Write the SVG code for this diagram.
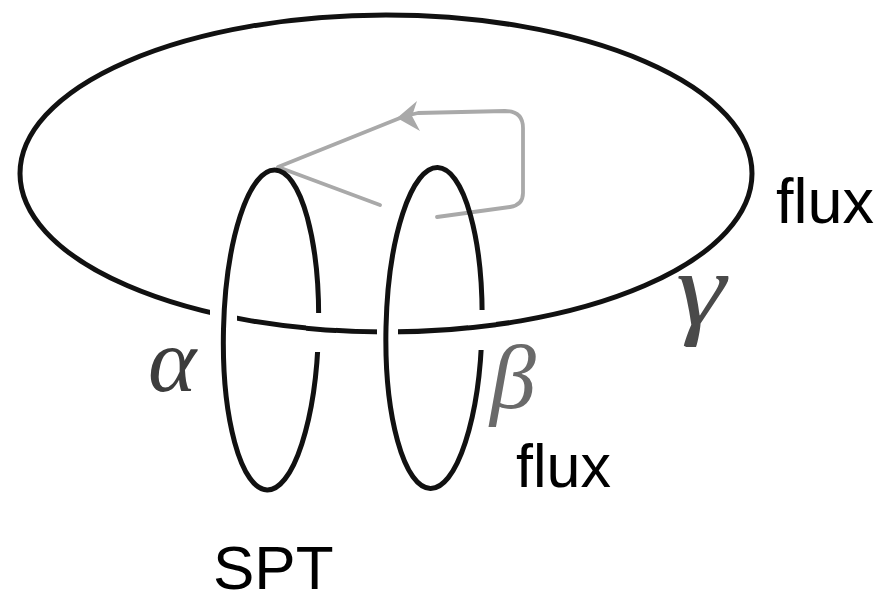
<svg xmlns="http://www.w3.org/2000/svg" width="881" height="594" viewBox="0 0 881 594">
<style>
.k{fill:none;stroke:#111;stroke-width:5}
.g{fill:none;stroke:#a9a9a9;stroke-width:3.8;stroke-linejoin:round;stroke-linecap:round}
.w{fill:#fff;stroke:none}
.lbl{font-family:"Liberation Sans",Arial,sans-serif;fill:#000}
.gr{font-family:"Liberation Serif","Times New Roman",serif;font-style:italic}
</style>
<defs>
<ellipse id="big" cx="386" cy="173.5" rx="366" ry="158.5"/>
<clipPath id="front"><rect x="306" y="300" width="30" height="60"/><rect x="468" y="300" width="28" height="60"/></clipPath>
</defs>
<rect width="881" height="594" fill="#fff"/>
<g id="connectors">
<path class="g" d="M380 205 L278 167 L405 116 L418 113 L505 111 Q523 111 523 128 L523 193 Q523 205 510 207 L437 217"/>
<polygon points="397,118 417,101 412,116 420,131" fill="#a9a9a9"/>
</g>
<g id="gamma-loop">
<use href="#big" class="k"/>
<rect class="w" x="210" y="300" width="27" height="26"/>
<rect class="w" x="377" y="320" width="21" height="22"/>
</g>
<g id="alpha-loop">
<ellipse class="k" cx="271" cy="330" rx="47.5" ry="160" transform="rotate(1.4 271 330)"/>
</g>
<g id="beta-loop">
<ellipse class="k" cx="434" cy="328" rx="48" ry="160.5" transform="rotate(1.3 434 328)"/>
</g>
<g id="crossings">
<rect class="w" x="306" y="313" width="30" height="39"/>
<rect class="w" x="468" y="310" width="28" height="40"/>
<use href="#big" class="k" clip-path="url(#front)"/>
</g>
<g id="labels">
<text class="gr" x="148" y="391" font-size="92" fill="#3c3c3c">α</text>
<text class="gr" x="490" y="408" font-size="92" fill="#6a6a6a">β</text>
<text class="gr" transform="translate(676 324) scale(1.2 1)" x="0" y="0" font-size="105" fill="#4a4a4a">γ</text>
<text class="lbl" x="776" y="223" font-size="63">flux</text>
<text class="lbl" x="516" y="487" font-size="61">flux</text>
<text class="lbl" x="213" y="589" font-size="62">SPT</text>
</g>
</svg>
